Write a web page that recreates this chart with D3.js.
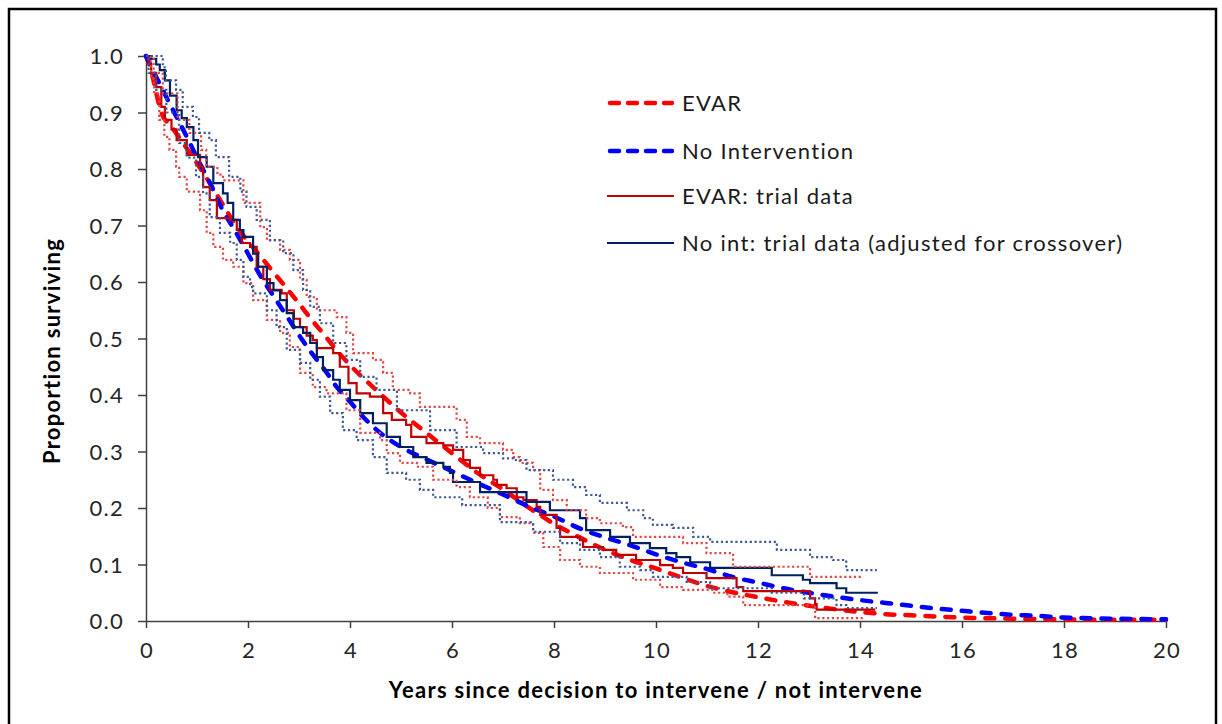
<!DOCTYPE html>
<html>
<head>
<meta charset="utf-8">
<script src="https://cdn.jsdelivr.net/npm/d3@7"></script>
<style>
  html, body { margin: 0; padding: 0; background: #fff; }
  svg { display: block; font-family: Lato, "Open Sans", sans-serif; }
</style>
</head>
<body>
<svg id="chart" width="1222" height="724"></svg>
<script>
// ---- Data ----
const xTicks = [0, 2, 4, 6, 8, 10, 12, 14, 16, 18, 20];
const yTicks = [0.0, 0.1, 0.2, 0.3, 0.4, 0.5, 0.6, 0.7, 0.8, 0.9, 1.0];
const legendLabels = ["EVAR", "No Intervention", "EVAR: trial data", "No int: trial data (adjusted for crossover)"];

// Model curves (smooth)
const evarModelT = [0,0.1,0.2,0.3,0.5,0.75,1.0,1.25,1.5,1.75,2.0,2.25,2.5,2.75,3.0,3.25,3.5,3.75,4.0,4.5,5.0,5.5,6.0,6.5,7.0,7.5,8.0,8.5,9.0,9.5,10.0,10.5,11.0,11.5,12.0,12.5,13.0,13.5,14.0,14.5,15,15.5,16,16.5,17,18,19,20];
const evarModelS = [1.0,0.975,0.935,0.900,0.875,0.843,0.810,0.775,0.738,0.702,0.672,0.645,0.617,0.590,0.562,0.533,0.506,0.478,0.453,0.410,0.369,0.333,0.297,0.262,0.233,0.201,0.172,0.148,0.126,0.108,0.093,0.077,0.062,0.051,0.042,0.034,0.027,0.021,0.016,0.012,0.010,0.008,0.006,0.005,0.004,0.003,0.002,0.002];

const noIntModelT = [0,0.2,0.4,0.6,0.8,1.0,1.25,1.5,1.75,2.0,2.25,2.5,2.75,3.0,3.25,3.5,3.75,4.0,4.25,4.5,5.0,5.5,6.0,6.5,7.0,7.5,8.0,8.5,9.0,9.5,10,10.5,11,11.5,12,12.5,13,13.5,14,14.5,15,15.5,16,16.5,17,17.5,18,18.5,19,20];
const noIntModelS = [1.0,0.963,0.927,0.892,0.857,0.820,0.776,0.728,0.690,0.650,0.610,0.575,0.541,0.506,0.474,0.445,0.413,0.388,0.362,0.340,0.308,0.286,0.265,0.244,0.224,0.203,0.185,0.164,0.148,0.134,0.118,0.104,0.092,0.078,0.068,0.058,0.050,0.043,0.037,0.032,0.027,0.022,0.018,0.014,0.011,0.009,0.006,0.005,0.004,0.003];

// Trial Kaplan-Meier data (step functions)
const evarTrialT = [0,0.05,0.1,0.2,0.3,0.37,0.5,0.6,0.8,1.06,1.12,1.25,1.39,1.65,1.78,1.88,2.04,2.17,2.3,2.43,2.66,2.76,2.9,3.02,3.15,3.27,3.35,3.67,3.8,3.97,4.13,4.39,4.65,4.82,5.1,5.2,5.5,5.83,6.02,6.22,6.35,6.55,6.81,6.88,7.07,7.27,7.4,7.66,7.73,8.05,8.12,8.51,8.57,8.96,9.22,9.61,10.08,10.33,10.53,10.99,11.58,11.71,13.02,13.12,13.15,14.3];
const evarTrialS = [1.0,0.985,0.97,0.945,0.91,0.887,0.87,0.851,0.825,0.804,0.768,0.745,0.713,0.71,0.692,0.669,0.662,0.627,0.605,0.586,0.58,0.55,0.535,0.52,0.505,0.497,0.483,0.474,0.45,0.421,0.403,0.397,0.368,0.356,0.347,0.326,0.315,0.311,0.303,0.285,0.271,0.258,0.25,0.241,0.235,0.219,0.214,0.202,0.188,0.165,0.149,0.143,0.131,0.126,0.117,0.108,0.099,0.094,0.085,0.076,0.06,0.053,0.040,0.030,0.020,0.020];

const noIntTrialT = [0,0.1,0.2,0.27,0.37,0.47,0.6,0.7,0.8,0.93,1.02,1.19,1.32,1.51,1.6,1.71,1.84,1.91,2.1,2.2,2.37,2.5,2.63,2.76,2.89,3.08,3.22,3.35,3.47,3.67,3.8,4.0,4.2,4.45,4.72,4.98,5.24,5.5,5.83,5.96,6.02,6.55,7.46,7.92,8.51,8.63,9.1,9.49,9.88,10.2,10.4,10.67,11.06,12.27,12.88,13.02,13.54,13.73,14.35];
const noIntTrialS = [1.0,0.995,0.985,0.975,0.957,0.93,0.904,0.89,0.874,0.851,0.821,0.804,0.775,0.757,0.74,0.71,0.692,0.68,0.65,0.627,0.598,0.585,0.568,0.545,0.52,0.51,0.492,0.467,0.444,0.427,0.409,0.391,0.368,0.35,0.326,0.308,0.29,0.28,0.273,0.262,0.246,0.228,0.211,0.196,0.182,0.161,0.149,0.138,0.129,0.12,0.113,0.104,0.094,0.081,0.073,0.067,0.058,0.05,0.05];

// Confidence intervals (step functions)
const evarUpperT = [0,0.15,0.33,0.62,0.85,1.08,1.18,1.4,1.51,1.91,2.24,2.37,2.63,2.82,3.02,3.15,3.35,3.74,3.93,4.06,4.45,4.65,4.84,5.18,5.37,5.83,6.09,6.29,6.55,7.0,7.2,7.33,7.59,7.73,7.98,8.25,8.63,8.9,9.35,9.55,10.53,10.99,11.51,12.95,13.02,14.03];
const evarUpperS = [1.0,0.97,0.934,0.887,0.864,0.834,0.804,0.79,0.78,0.74,0.697,0.674,0.657,0.639,0.604,0.573,0.55,0.538,0.51,0.474,0.462,0.439,0.409,0.403,0.379,0.379,0.356,0.326,0.315,0.303,0.29,0.28,0.267,0.232,0.214,0.196,0.182,0.173,0.166,0.149,0.138,0.12,0.096,0.096,0.078,0.078];

const evarLowerT = [0,0.1,0.16,0.26,0.36,0.46,0.59,0.65,0.8,1.06,1.19,1.32,1.51,1.71,1.91,2.1,2.37,2.63,2.82,3.02,3.27,3.54,3.93,4.2,4.59,4.72,4.98,5.31,5.63,6.09,6.35,6.7,6.94,7.33,7.59,7.79,8.12,8.51,8.9,9.55,10.08,10.53,11.12,11.4,11.71,13.12,14.06];
const evarLowerS = [1.0,0.96,0.934,0.887,0.857,0.834,0.804,0.786,0.76,0.727,0.687,0.662,0.639,0.627,0.598,0.568,0.533,0.51,0.485,0.439,0.414,0.403,0.373,0.333,0.32,0.297,0.28,0.273,0.25,0.237,0.219,0.2,0.184,0.173,0.156,0.131,0.108,0.096,0.085,0.073,0.06,0.055,0.05,0.043,0.028,0.005,0.005];

const noIntUpperT = [0,0.2,0.33,0.39,0.59,0.72,0.92,1.04,1.24,1.37,1.63,1.85,1.97,2.17,2.43,2.69,2.89,3.08,3.22,3.41,3.67,3.93,4.2,4.52,4.92,5.57,6.09,6.61,7.0,7.2,7.46,7.98,8.37,8.63,8.9,9.43,9.75,9.94,10.33,10.73,11.06,12.37,13.02,13.47,13.73,14.33];
const noIntUpperS = [1.0,1.0,0.98,0.957,0.94,0.91,0.892,0.864,0.851,0.821,0.786,0.76,0.733,0.71,0.674,0.651,0.621,0.586,0.556,0.527,0.492,0.462,0.432,0.409,0.373,0.338,0.308,0.297,0.288,0.285,0.267,0.25,0.237,0.223,0.209,0.196,0.182,0.17,0.165,0.149,0.14,0.126,0.113,0.108,0.09,0.09];

const noIntLowerT = [0,0.05,0.2,0.4,0.65,0.8,0.98,1.12,1.25,1.45,1.65,1.78,1.91,2.04,2.1,2.37,2.56,2.76,3.02,3.22,3.41,3.61,3.86,4.13,4.45,4.72,5.1,5.37,5.63,6.2,6.94,7.59,8.12,8.51,8.9,9.29,9.69,9.94,10.6,11.06,12.27,12.9,13.54,13.73,14.33];
const noIntLowerS = [1.0,0.97,0.94,0.9,0.846,0.82,0.786,0.757,0.715,0.687,0.669,0.639,0.609,0.591,0.58,0.55,0.52,0.48,0.457,0.427,0.397,0.368,0.338,0.32,0.29,0.262,0.25,0.232,0.219,0.205,0.175,0.158,0.138,0.126,0.113,0.096,0.09,0.078,0.069,0.058,0.05,0.04,0.028,0.023,0.023];

// ---- Layout ----
const svg = d3.select("#chart");
const x = d3.scaleLinear().domain([0, 20]).range([146, 1166]);
const y = d3.scaleLinear().domain([0, 1]).range([621, 56]);

// outer border
svg.append("rect").attr("x", 9).attr("y", 9).attr("width", 1207).attr("height", 740)
  .attr("fill", "none").attr("stroke", "#000").attr("stroke-width", 2.5);

const zip = (T, S) => T.map((t, i) => [t, S[i]]);
const smooth = d3.line().x(d => x(d[0])).y(d => y(d[1])).curve(d3.curveMonotoneX);
const step = d3.line().x(d => x(d[0])).y(d => y(d[1])).curve(d3.curveStepAfter);

const FONT = "22px";
const LS = "1.3px";

// axes
const yAxis = d3.axisLeft(y).tickValues(yTicks).tickFormat(d3.format(".1f")).tickSize(8).tickSizeOuter(0);
const xAxis = d3.axisBottom(x).tickValues(xTicks).tickFormat(d3.format("d")).tickSize(7).tickSizeOuter(0);

const gy = svg.append("g").attr("transform", "translate(146,0)").call(yAxis);
const gx = svg.append("g").attr("transform", "translate(0,621)").call(xAxis);
[gx, gy].forEach(g => {
  g.select(".domain").attr("stroke", "#404040").attr("stroke-width", 1.5);
  g.selectAll(".tick line").attr("stroke", "#404040").attr("stroke-width", 1.5);
  g.selectAll(".tick text").attr("fill", "#262626").style("font-size", FONT)
    .style("font-family", "Lato, sans-serif").style("letter-spacing", LS);
});
gy.selectAll(".tick text").attr("x", -22).attr("dy", "0.35em");
gx.selectAll(".tick text").attr("y", 21).attr("dy", "0.71em").attr("dx", "0.6px");

// axis titles
svg.append("text").attr("transform", "translate(60,351) rotate(-90)")
  .attr("text-anchor", "middle").style("font-size", FONT).style("font-weight", "bold")
  .style("letter-spacing", LS).attr("fill", "#000").text("Proportion surviving");
svg.append("text").attr("x", 656).attr("y", 698)
  .attr("text-anchor", "middle").style("font-size", FONT).style("font-weight", "bold")
  .style("letter-spacing", LS).attr("fill", "#000").text("Years since decision to intervene / not intervene");

// series
const plot = svg.append("g");
plot.append("path").datum(zip(evarModelT, evarModelS)).attr("d", smooth)
  .attr("fill", "none").attr("stroke", "#FF0000").attr("stroke-width", 4.5)
  .attr("stroke-dasharray", "9,11").attr("stroke-linecap", "round");
plot.append("path").datum(zip(noIntModelT, noIntModelS)).attr("d", smooth)
  .attr("fill", "none").attr("stroke", "#0000FF").attr("stroke-width", 4.5)
  .attr("stroke-dasharray", "9,11").attr("stroke-linecap", "round");
plot.append("path").datum(zip(evarTrialT, evarTrialS)).attr("d", step)
  .attr("fill", "none").attr("stroke", "#C00000").attr("stroke-width", 2.2);
plot.append("path").datum(zip(noIntTrialT, noIntTrialS)).attr("d", step)
  .attr("fill", "none").attr("stroke", "#002060").attr("stroke-width", 2.2);

const dotted = (T, S, c) => plot.append("path").datum(zip(T, S)).attr("d", step)
  .attr("fill", "none").attr("stroke", c).attr("stroke-width", 2.2)
  .attr("stroke-dasharray", "2.2,2.6");
dotted(evarUpperT, evarUpperS, "#E04848");
dotted(evarLowerT, evarLowerS, "#E04848");
dotted(noIntUpperT, noIntUpperS, "#3E5A92");
dotted(noIntLowerT, noIntLowerS, "#3E5A92");

// legend
const legY = [103, 151, 196, 243];
const legStyles = [
  {c: "#FF0000", w: 4.5, dash: "9,9", cap: "round"},
  {c: "#0000FF", w: 4.5, dash: "9,9", cap: "round"},
  {c: "#C00000", w: 2, dash: null, cap: "butt"},
  {c: "#002060", w: 2, dash: null, cap: "butt"}
];
legendLabels.forEach((lab, i) => {
  const s = legStyles[i];
  const l = svg.append("line").attr("x1", 610).attr("x2", 672).attr("y1", legY[i]).attr("y2", legY[i])
    .attr("stroke", s.c).attr("stroke-width", s.w).attr("stroke-linecap", s.cap);
  if (s.dash) l.attr("stroke-dasharray", s.dash);
  else l.attr("x1", 607).attr("x2", 674);
  svg.append("text").attr("x", 682).attr("y", legY[i]).attr("dy", "0.35em")
    .style("font-size", FONT).style("letter-spacing", LS).attr("fill", "#1a1a1a").text(lab);
});
</script>
</body>
</html>
